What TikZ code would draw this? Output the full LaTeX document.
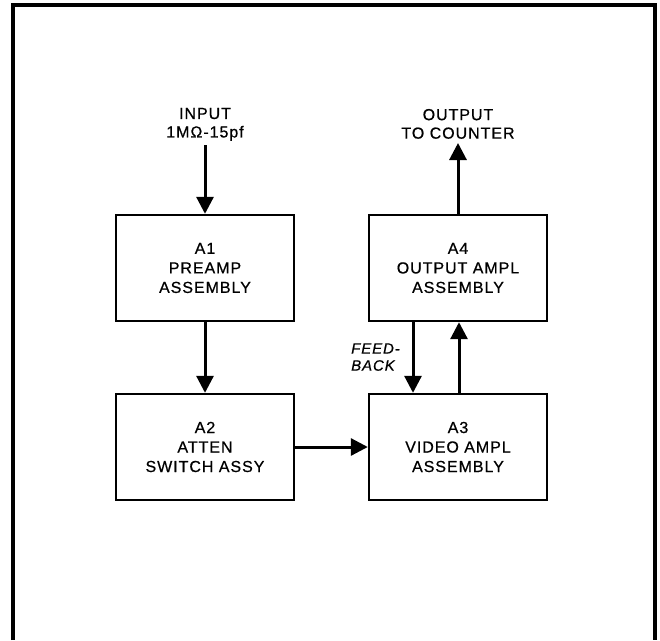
\documentclass[tikz,border=0pt]{standalone}
\usepackage{fontspec}
\setmainfont{Liberation Sans}[LetterSpace=6,FakeBold=0.6]
\usetikzlibrary{arrows.meta}
\begin{document}
\begin{tikzpicture}[x=1pt,y=-1pt,
  blk/.style={draw,line width=2.4pt,inner sep=0pt,align=center,
    font=\fontsize{16}{19.5}\selectfont},
  lbl/.style={inner sep=0pt,align=center,font=\fontsize{16}{18.5}\selectfont},
  fb/.style={inner sep=0pt,align=left,font=\fontsize{15}{17}\selectfont\itshape},
  sig/.style={line width=3pt,-{Triangle[length=17pt,width=17pt]}}]
\useasboundingbox (0,0) rectangle (660,640);
\draw[line width=3.5pt] (13,640) -- (13,5) -- (655,5) -- (655,640);
\node[blk,minimum width=178pt,minimum height=106pt] (a1) at (205,268) {A1\\PREAMP\\ASSEMBLY};
\node[blk,minimum width=178pt,minimum height=106pt] (a2) at (205,447) {A2\\ATTEN\\SWITCH ASSY};
\node[blk,minimum width=178pt,minimum height=106pt] (a3) at (458,447) {A3\\VIDEO AMPL\\ASSEMBLY};
\node[blk,minimum width=178pt,minimum height=106pt] (a4) at (458,268) {A4\\OUTPUT AMPL\\ASSEMBLY};
\node[lbl,anchor=south] (in) at (205,141) {INPUT\\1MΩ-15pf};
\node[lbl,anchor=south] (out) at (458,139) {OUTPUT\\TO COUNTER};
\node[fb,anchor=south east] (fbl) at (400,371) {FEED-\\BACK};
\coordinate (inend) at (205,145);
\coordinate (outend) at (458,143);
\draw[sig] (inend) -- (a1.north);
\draw[sig] (a1.south) -- (a2.north);
\draw[sig] (a2.east) -- (a3.west);
\draw[sig] (a3.north -| 459,0) -- (a4.south -| 459,0);
\draw[sig] (a4.south -| 413,0) -- (a3.north -| 413,0);
\draw[sig] (a4.north) -- (outend);
\end{tikzpicture}
\end{document}
